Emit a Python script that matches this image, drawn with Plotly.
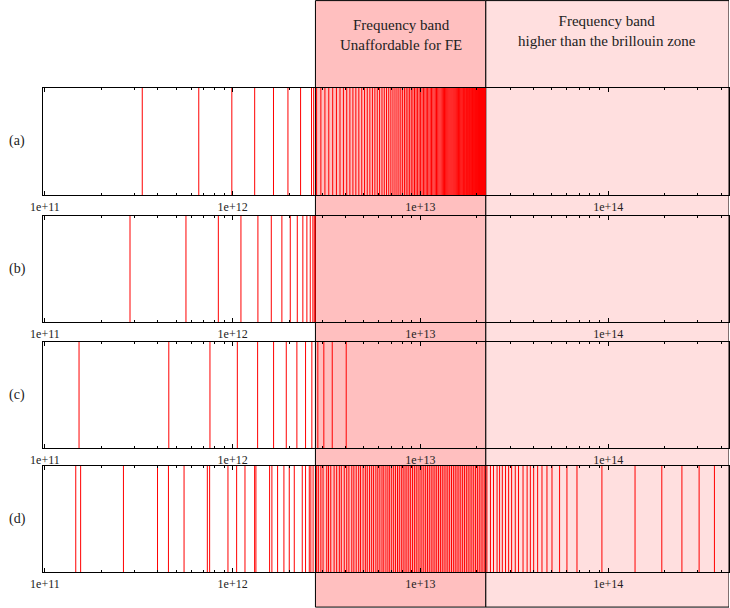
import math
import plotly.graph_objects as go

# ---------------- data (frequencies in THz) ----------------
panel_labels = ["(a)", "(b)", "(c)", "(d)"]

freqs_a = [0.33, 0.66, 0.99, 1.31, 1.65, 1.97, 2.30, 2.63, 2.70,
           2.80, 2.95, 3.10, 3.25, 3.41, 3.57, 3.73, 3.89, 4.05, 4.21, 4.37, 4.53, 4.70, 4.87,
           5.04, 5.21, 5.38, 5.55, 5.72, 5.89, 6.06, 6.24, 6.42, 6.60, 6.78, 6.96, 7.14, 7.32,
           7.50, 7.68, 7.86, 8.04, 8.22, 8.40, 8.58, 8.76, 8.94, 9.12, 9.30, 9.48, 9.66, 9.84,
           10.02, 10.20, 10.38, 10.56, 10.74, 10.92, 11.10, 11.28, 11.46, 11.64, 11.82, 12.00,
           12.18, 12.36, 12.54, 12.72, 12.90, 13.08, 13.26, 13.44, 13.62, 13.80, 13.98, 14.16,
           14.34, 14.52, 14.70, 14.88, 15.06, 15.24, 15.42, 15.60, 15.78, 15.96, 16.13, 16.30,
           16.47, 16.64, 16.81, 16.98, 17.14, 17.30, 17.46, 17.62, 17.78, 17.93, 18.08, 18.23,
           18.38, 18.53, 18.67, 18.81, 18.95, 19.09, 19.22, 19.35, 19.48, 19.61, 19.73, 19.85,
           19.97, 20.09, 20.20, 20.31, 20.42, 20.52, 20.62, 20.72, 20.81, 20.90, 20.99, 21.07,
           21.15, 21.23, 21.30, 21.37, 21.44, 21.50, 21.56, 21.62, 21.67, 21.72, 21.77, 21.81,
           21.85, 21.89, 21.92, 21.95, 21.98, 22.00, 22.02, 22.04, 22.05, 22.06]

freqs_b = [0.284, 0.564, 0.839, 1.107, 1.363, 1.606, 1.829, 2.027, 2.209, 2.365, 2.485,
           2.590, 2.674, 2.72, 2.75]

freqs_c = [0.152, 0.457, 0.757, 1.059, 1.358, 1.652, 1.930, 2.198, 2.445, 2.641, 2.842,
           3.059, 3.391, 4.025]

freqs_d = [0.146, 0.155, 0.262, 0.398, 0.455, 0.551, 0.733, 0.754, 0.944, 1.050, 1.163,
           1.309, 1.330, 1.573, 1.618, 1.735, 1.875, 2.002, 2.129, 2.348, 2.445, 2.559,
           2.609, 2.681,
           2.80, 2.86, 2.95, 3.03, 3.17, 3.24, 3.33, 3.47, 3.58, 3.70, 3.79, 3.93, 4.05, 4.16,
           4.31, 4.42, 4.55, 4.69, 4.80, 4.95, 5.09, 5.21, 5.36, 5.50, 5.63, 5.79, 5.93, 6.08,
           6.24, 6.38, 6.55, 6.71, 6.86, 7.03, 7.20, 7.37, 7.55, 7.72, 7.91, 8.09, 8.28, 8.47,
           8.67, 8.87, 9.08, 9.29, 9.50, 9.72, 9.95, 10.18, 10.42, 10.66, 10.90, 11.15, 11.41,
           11.67, 11.94, 12.21, 12.49, 12.78, 13.07, 13.37, 13.68, 13.99, 14.31, 14.64, 14.98,
           15.32, 15.67, 16.03, 16.40, 16.78, 17.16, 17.56, 17.96, 18.37, 18.79, 19.22, 19.66,
           20.11, 20.57, 21.04, 21.52, 22.01,
           22.6, 23.6, 24.5, 25.6, 26.4, 27.3, 28.4, 29.5, 30.6, 32.0, 33.3, 35.2, 37.0, 38.5,
           40.1, 42.1, 44.4, 47.2, 50.2, 55.1, 60.3, 68.2, 92.6, 139, 193, 247, 305, 368]

band_fe = [2.76, 22.3]          # THz, band unaffordable for FE
band_bz = [22.3, 440.0]         # THz, band above the brillouin zone
band_texts = ["Frequency band<br>Unaffordable for FE",
              "Frequency band<br>higher than the brillouin zone"]

tick_vals_thz = [0.1, 1, 10, 100]
tick_text = ["1e+11", "1e+12", "1e+13", "1e+14"]
x_range_thz = [0.0977, 440.0]

THZ = 1e12
panels = [freqs_a, freqs_b, freqs_c, freqs_d]

# ---------------- figure ----------------
W, H = 730, 608
ml, mr = 43, 1
domains_px = [(88, 195), (216, 322), (342, 448), (466, 572)]
font_family = "Liberation Serif, Times New Roman, serif"

fig = go.Figure()
layout = dict(width=W, height=H, margin=dict(l=ml, r=mr, t=0, b=0),
              paper_bgcolor="white", plot_bgcolor="rgba(0,0,0,0)",
              showlegend=False, font=dict(family=font_family, color="#222"))

minor_vals = []
for dec in [1e11, 1e12, 1e13, 1e14]:
    for k in range(2, 10):
        minor_vals.append(dec * k)

xr = [math.log10(x_range_thz[0] * THZ), math.log10(x_range_thz[1] * THZ)]

for i, freqs in enumerate(panels):
    xs, ys = [], []
    for f in freqs:
        xs += [f * THZ, f * THZ, None]
        ys += [0, 1, None]
    n = "" if i == 0 else str(i + 1)
    fig.add_trace(go.Scatter(x=xs, y=ys, mode="lines",
                             line=dict(color="#ff0000", width=1),
                             xaxis="x" + n, yaxis="y" + n, hoverinfo="skip"))
    top, bot = domains_px[i]
    layout["xaxis" + n] = dict(
        type="log", range=xr, domain=[0, 1], anchor="y" + n,
        tickvals=[v * THZ for v in tick_vals_thz], ticktext=tick_text,
        ticks="inside", ticklen=4, tickcolor="black", tickwidth=1,
        showline=True, linecolor="black", linewidth=1.2, mirror="allticks",
        showgrid=False, zeroline=False,
        tickfont=dict(family=font_family, size=12, color="#222"),
        minor=dict(tickvals=minor_vals, ticks="inside", ticklen=2,
                   tickcolor="black", showgrid=False))
    layout["yaxis" + n] = dict(
        range=[0, 1], domain=[1 - bot / H, 1 - top / H], anchor="x" + n,
        showticklabels=False, ticks="", showgrid=False, zeroline=False,
        showline=True, linecolor="black", linewidth=1.2, mirror=True)

fig.update_layout(**layout)

# bands
fig.add_shape(type="rect", xref="x", yref="paper",
              x0=band_fe[0] * THZ, x1=band_fe[1] * THZ, y0=0.0015, y1=0.999,
              fillcolor="#ffbfbf", line=dict(color="black", width=1), layer="below")
fig.add_shape(type="rect", xref="x", yref="paper",
              x0=band_bz[0] * THZ, x1=band_bz[1] * THZ, y0=0.0015, y1=0.999,
              fillcolor="#ffdfdf", line=dict(color="black", width=1), layer="below")

# band texts
for (lo, hi), txt, ypx in zip([band_fe, band_bz], band_texts, [35, 31]):
    xc = (math.log10(lo * THZ) + math.log10(hi * THZ)) / 2
    fig.add_annotation(x=xc, xref="x", y=1 - ypx / H, yref="paper", text=txt,
                       showarrow=False, xanchor="center", yanchor="middle",
                       font=dict(family=font_family, size=15, color="#222"))

# panel labels
for i, lab in enumerate(panel_labels):
    top, bot = domains_px[i]
    fig.add_annotation(x=(17 - ml) / (W - ml - mr), xref="paper",
                       y=1 - (top + bot) / 2 / H, yref="paper", text=lab,
                       showarrow=False, xanchor="center", yanchor="middle",
                       font=dict(family=font_family, size=14, color="#222"))

fig.write_html("out.html", config={"displayModeBar": False},
               post_script="document.body.style.margin='0';"
                           "document.body.style.overflow='hidden';")
